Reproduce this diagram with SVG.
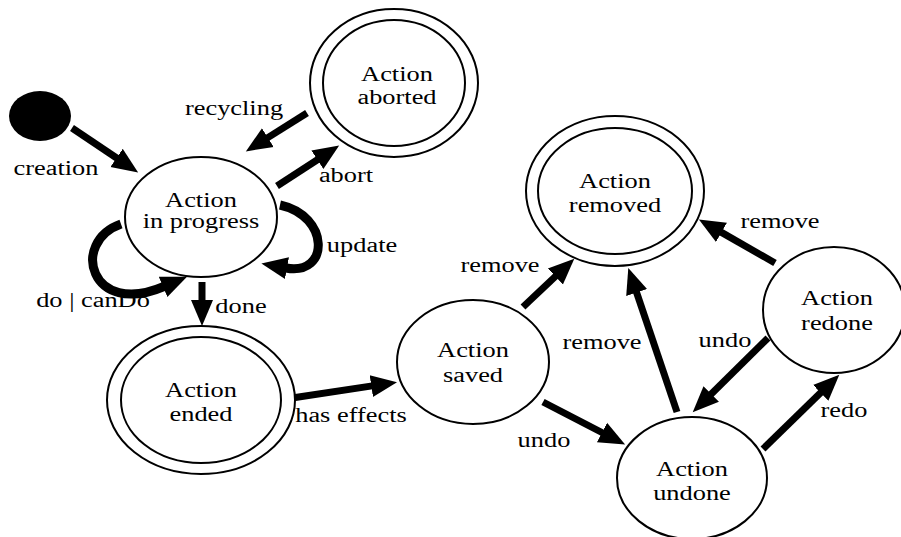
<svg xmlns="http://www.w3.org/2000/svg" width="901" height="537" viewBox="0 0 901 537">
<style>
.n{fill:#fff;stroke:#000;stroke-width:2}
.t{font-family:"Liberation Serif","Times New Roman",serif;font-size:20px;fill:#000;text-anchor:middle}
.c{fill:none;stroke:#000;stroke-width:7}
.l{fill:none;stroke:#000;stroke-width:9}
</style>
<defs>
<marker id="ah" markerUnits="userSpaceOnUse" markerWidth="30" markerHeight="26" viewBox="0 -13 30 26" refX="1" refY="0" orient="auto">
<path d="M0,-11 L26,0 L0,11 Z" fill="#000"/>
</marker>
</defs>
<rect width="901" height="537" fill="#fff"/>
<g id="connectors">
<path class="c" d="M72,128 L117.4,158.5" marker-end="url(#ah)"/>
<path class="c" d="M307,113 L267,138.1" marker-end="url(#ah)"/>
<path class="c" d="M277,186 L318.2,159.2" marker-end="url(#ah)"/>
<path class="c" d="M202,282 L202,301" marker-end="url(#ah)"/>
<path class="c" d="M292,398 L372.3,385.9" marker-end="url(#ah)"/>
<path class="c" d="M523,307 L556.1,275.8" marker-end="url(#ah)"/>
<path class="c" d="M677,412 L636.3,291.6" marker-end="url(#ah)"/>
<path class="c" d="M775,263 L720.6,231.9" marker-end="url(#ah)"/>
<path class="c" d="M768,338 L710.5,394.7" marker-end="url(#ah)"/>
<path class="c" d="M543,402 L602.9,433" marker-end="url(#ah)"/>
<path class="c" d="M763,449 L821.4,392.1" marker-end="url(#ah)"/>
<path class="l" d="M121,224 C70,242 90,318 164,286.5" marker-end="url(#ah)"/>
<path class="l" d="M280,205 C330,216 330,276 286,268" marker-end="url(#ah)"/>
<text class="t" transform="translate(56,0) scale(1.32,1)" y="175">creation</text>
<text class="t" transform="translate(234,0) scale(1.32,1)" y="115">recycling</text>
<text class="t" transform="translate(346,0) scale(1.32,1)" y="182">abort</text>
<text class="t" transform="translate(362,0) scale(1.32,1)" y="252">update</text>
<text class="t" transform="translate(93,0) scale(1.32,1)" y="307">do | canDo</text>
<text class="t" transform="translate(241,0) scale(1.32,1)" y="313">done</text>
<text class="t" transform="translate(351,0) scale(1.32,1)" y="422">has effects</text>
<text class="t" transform="translate(500,0) scale(1.32,1)" y="272">remove</text>
<text class="t" transform="translate(602,0) scale(1.32,1)" y="349">remove</text>
<text class="t" transform="translate(780,0) scale(1.32,1)" y="228">remove</text>
<text class="t" transform="translate(725,0) scale(1.32,1)" y="347">undo</text>
<text class="t" transform="translate(544,0) scale(1.32,1)" y="447">undo</text>
<text class="t" transform="translate(844,0) scale(1.32,1)" y="417">redo</text>
</g>
<g id="initial">
<ellipse cx="40" cy="116" rx="31" ry="25" fill="#000"/>
</g>
<g id="in-progress">
<ellipse class="n" cx="201" cy="217" rx="76" ry="60"/>
<text class="t" transform="translate(201,0) scale(1.32,1)"><tspan x="0" y="207">Action</tspan><tspan x="0" y="228">in progress</tspan></text>
</g>
<g id="aborted">
<ellipse class="n" cx="394" cy="83" rx="84" ry="74"/>
<ellipse class="n" cx="394" cy="83" rx="71" ry="63"/>
<text class="t" transform="translate(397,0) scale(1.32,1)"><tspan x="0" y="81">Action</tspan><tspan x="0" y="104">aborted</tspan></text>
</g>
<g id="ended">
<ellipse class="n" cx="201" cy="400" rx="94" ry="74"/>
<ellipse class="n" cx="201" cy="400" rx="80" ry="63"/>
<text class="t" transform="translate(201,0) scale(1.32,1)"><tspan x="0" y="397">Action</tspan><tspan x="0" y="421">ended</tspan></text>
</g>
<g id="saved">
<ellipse class="n" cx="473" cy="362" rx="76" ry="62"/>
<text class="t" transform="translate(473,0) scale(1.32,1)"><tspan x="0" y="357">Action</tspan><tspan x="0" y="382">saved</tspan></text>
</g>
<g id="removed">
<ellipse class="n" cx="615" cy="191" rx="89" ry="75"/>
<ellipse class="n" cx="615" cy="191" rx="77" ry="63"/>
<text class="t" transform="translate(615,0) scale(1.32,1)"><tspan x="0" y="188">Action</tspan><tspan x="0" y="212">removed</tspan></text>
</g>
<g id="redone">
<ellipse class="n" cx="834" cy="310" rx="71" ry="63"/>
<text class="t" transform="translate(837,0) scale(1.32,1)"><tspan x="0" y="305">Action</tspan><tspan x="0" y="330">redone</tspan></text>
</g>
<g id="undone">
<ellipse class="n" cx="692" cy="478" rx="75" ry="61"/>
<text class="t" transform="translate(692,0) scale(1.32,1)"><tspan x="0" y="476">Action</tspan><tspan x="0" y="500">undone</tspan></text>
</g>
</svg>
